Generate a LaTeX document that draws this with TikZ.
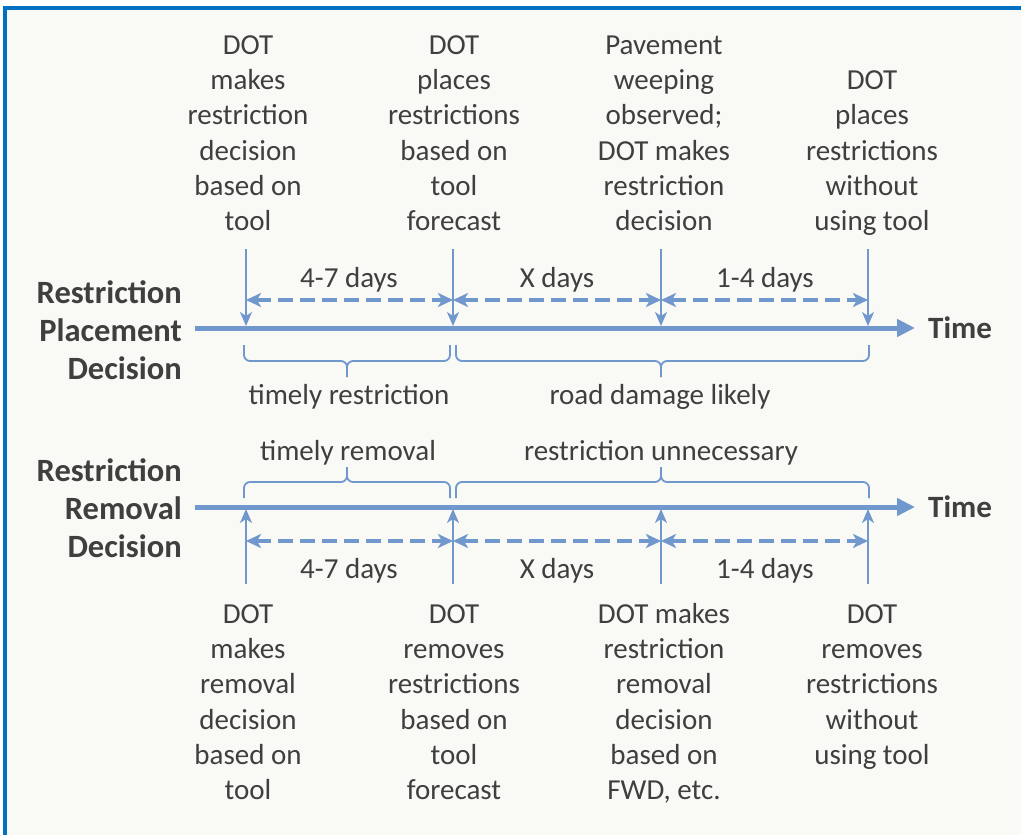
\documentclass[tikz,border=0pt]{standalone}
\usepackage{fontspec}
\setmainfont{Carlito}
\usepackage{tikz}
\usetikzlibrary{positioning,arrows.meta}
\definecolor{lineblue}{HTML}{7098CC}
\definecolor{frameblue}{HTML}{0070C0}
\definecolor{textgray}{HTML}{3F3F3F}
\definecolor{paper}{HTML}{F9F9F6}

\begin{document}
\begin{tikzpicture}[x=1pt,y=1pt,font=\fontsize{29}{35.3}\selectfont,text=textgray,
  event/.style={align=center,inner sep=0pt},
  sidelabel/.style={align=right,inner sep=0pt,font=\fontsize{32.5}{38}\selectfont\bfseries},
  timelabel/.style={anchor=base west,inner sep=0pt,font=\fontsize{31}{38}\selectfont\bfseries},
  daylabel/.style={anchor=base,inner sep=0pt},
  timeline/.style={draw=lineblue,line width=5pt,-{Triangle[length=18pt,width=17pt]}},
  marker/.style={draw=lineblue,line width=1.8pt,-{Stealth[length=14pt,width=12pt,inset=4pt]}},
  span/.style={draw=lineblue,line width=3.5pt,dash pattern=on 15pt off 7pt,
    {Stealth[length=15pt,width=14pt,inset=4pt]}-{Stealth[length=15pt,width=14pt,inset=4pt]}},
  bracket/.style={draw=lineblue,line width=1.8pt,rounded corners=6pt}]
\useasboundingbox (0,0) rectangle (1021,-835);

% frame
\fill[paper] (5,-8) rectangle (1021,-835);
\draw[frameblue,line width=4pt] (5,-835) -- (5,-8) -- (1021,-8);

% placement decision
\node[sidelabel,anchor=north east] (plab) at (182,-276.4) {\strut Restriction\\Placement\\Decision\strut};

\node[event,anchor=south] (pl1) at (248,-241.6) {\strut DOT\\makes\\restriction\\decision\\based on\\tool\strut};
\node[event,anchor=south] (pl2) at (454,-241.6) {\strut DOT\\places\\restrictions\\based on\\tool\\forecast\strut};
\node[event,anchor=south] (pl3) at (664,-241.6) {\strut Pavement\\weeping\\observed;\\DOT makes\\restriction\\decision\strut};
\node[event,anchor=south] (pl4) at (872,-241.6) {\strut DOT\\places\\restrictions\\without\\using tool\strut};

\coordinate (pa1) at (246,-249);
\coordinate (pa2) at (453,-249);
\coordinate (pa3) at (661,-249);
\coordinate (pa4) at (868,-249);
\coordinate (pt1) at (246,-326);
\coordinate (pt2) at (453,-326);
\coordinate (pt3) at (661,-326);
\coordinate (pt4) at (868,-326);
\coordinate (pd1) at (246,-300);
\coordinate (pd2) at (453,-300);
\coordinate (pd3) at (661,-300);
\coordinate (pd4) at (868,-300);

\draw[timeline] (195,-328) coordinate (ps) -- (915,-328) coordinate (pe);
\node[timelabel] (ptime) at (928,-338) {Time};

\draw[marker] (pa1) -- (pt1);
\draw[marker] (pa2) -- (pt2);
\draw[marker] (pa3) -- (pt3);
\draw[marker] (pa4) -- (pt4);

\draw[span] (pd1) -- (pd2);
\draw[span] (pd2) -- (pd3);
\draw[span] (pd3) -- (pd4);
\node[daylabel] (pdays1) at (349,-287) {4-7 days};
\node[daylabel] (pdays2) at (557,-287) {X days};
\node[daylabel] (pdays3) at (765,-287) {1-4 days};

% braces below the placement line
\coordinate (pb1) at (244,-345);
\coordinate (pb2) at (450,-345);
\coordinate (pb3) at (456,-345);
\coordinate (pb4) at (869,-345);
\coordinate (pc1) at (347,-377);
\coordinate (pc2) at (661,-377);
\draw[bracket] (pb1) -- (244,-361) -- (347,-361) -- (pc1);
\draw[bracket] (pc1) -- (347,-361) -- (450,-361) -- (pb2);
\draw[bracket] (pb3) -- (456,-361) -- (661,-361) -- (pc2);
\draw[bracket] (pc2) -- (661,-361) -- (869,-361) -- (pb4);
\node[daylabel] (ptimely) at (349,-404) {timely restriction};
\node[daylabel] (pdamage) at (660,-404) {road damage likely};

% removal decision
\node[sidelabel,anchor=north east] (rlab) at (182,-454.4) {\strut Restriction\\Removal\\Decision\strut};

% braces above the removal line
\coordinate (rb1) at (244,-498);
\coordinate (rb2) at (450,-498);
\coordinate (rb3) at (456,-498);
\coordinate (rb4) at (869,-498);
\coordinate (rc1) at (347,-467);
\coordinate (rc2) at (661,-467);
\draw[bracket] (rb1) -- (244,-482) -- (347,-482) -- (rc1);
\draw[bracket] (rc1) -- (347,-482) -- (450,-482) -- (rb2);
\draw[bracket] (rb3) -- (456,-482) -- (661,-482) -- (rc2);
\draw[bracket] (rc2) -- (661,-482) -- (869,-482) -- (rb4);
\node[daylabel] (rtimely) at (348,-460) {timely removal};
\node[daylabel] (rneedless) at (661,-460) {restriction unnecessary};

\draw[timeline] (195,-507) coordinate (rs) -- (915,-507) coordinate (re);
\node[timelabel] (rtime) at (928,-517) {Time};

\coordinate (ra1) at (246,-584);
\coordinate (ra2) at (453,-584);
\coordinate (ra3) at (661,-584);
\coordinate (ra4) at (868,-584);
\coordinate (rt1) at (246,-509);
\coordinate (rt2) at (453,-509);
\coordinate (rt3) at (661,-509);
\coordinate (rt4) at (868,-509);
\coordinate (rd1) at (246,-541);
\coordinate (rd2) at (453,-541);
\coordinate (rd3) at (661,-541);
\coordinate (rd4) at (868,-541);

\draw[marker] (ra1) -- (rt1);
\draw[marker] (ra2) -- (rt2);
\draw[marker] (ra3) -- (rt3);
\draw[marker] (ra4) -- (rt4);

\draw[span] (rd1) -- (rd2);
\draw[span] (rd2) -- (rd3);
\draw[span] (rd3) -- (rd4);
\node[daylabel] (rdays1) at (349,-578) {4-7 days};
\node[daylabel] (rdays2) at (557,-578) {X days};
\node[daylabel] (rdays3) at (765,-578) {1-4 days};

\node[event,anchor=north] (rm1) at (248,-598.3) {\strut DOT\\makes\\removal\\decision\\based on\\tool\strut};
\node[event,anchor=north] (rm2) at (454,-598.3) {\strut DOT\\removes\\restrictions\\based on\\tool\\forecast\strut};
\node[event,anchor=north] (rm3) at (664,-598.3) {\strut DOT makes\\restriction\\removal\\decision\\based on\\FWD, etc.\strut};
\node[event,anchor=north] (rm4) at (872,-598.3) {\strut DOT\\removes\\restrictions\\without\\using tool\strut};

\end{tikzpicture}
\end{document}
